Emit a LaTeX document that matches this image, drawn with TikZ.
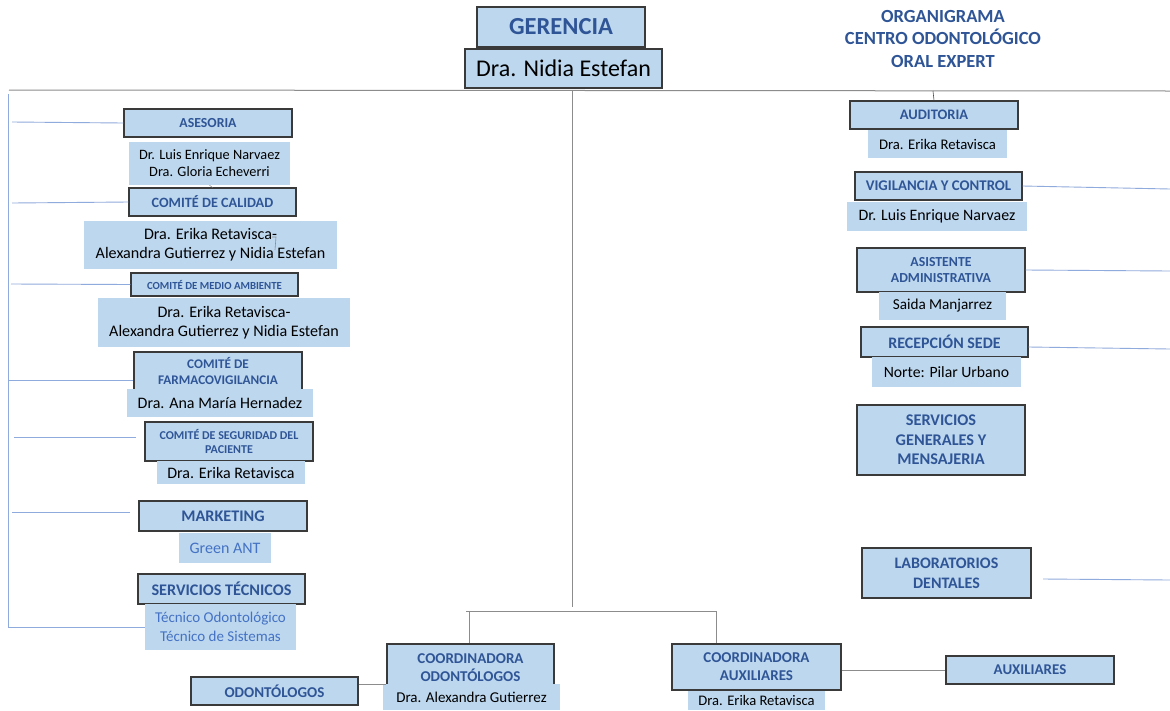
\documentclass[tikz,border=0pt]{standalone}
\usepackage{fontspec}
\setmainfont{Carlito}
\definecolor{boxfill}{HTML}{BDD7EE}
\definecolor{hdblue}{HTML}{2F5597}
\definecolor{midblue}{HTML}{4472C4}
\definecolor{edgegray}{HTML}{3A3A3A}
\definecolor{linegray}{HTML}{8C8C8C}
\definecolor{lineblue}{HTML}{8FAADC}
\newcommand{\fs}[2]{\fontsize{#1}{#2}\selectfont}
\tikzset{
  headbox/.style={draw=edgegray, line width=1.1pt, fill=boxfill, text=hdblue, font=\bfseries, inner sep=0pt, align=center},
  namebox/.style={fill=boxfill, text=black, inner sep=0pt, align=center},
  graylink/.style={draw=linegray, line width=1pt},
  bluelink/.style={draw=lineblue, line width=0.9pt},
}
\begin{document}
\begin{tikzpicture}[x=1pt,y=-1pt]
\useasboundingbox (0,0) rectangle (1170,710);
\fill[white] (0,0) rectangle (1170,710);

% ---- top ----
\node[headbox, minimum width=168pt, minimum height=40pt, font=\fs{24.5}{28}\bfseries] (ger) at (561,27) {GERENCIA};
\node[headbox, text=black, minimum width=197pt, minimum height=39pt, font=\fs{24}{28}] (nidia) at (563.5,68.5) {Dra. Nidia Estefan};
\node[text=hdblue, align=center, font=\fs{18.5}{22.5}\bfseries] (title) at (943,38.5) {ORGANIGRAMA\\CENTRO ODONTOLÓGICO\\ORAL EXPERT};

\coordinate (mainL) at (9,90);
\coordinate (mainR) at (1170,91);
\coordinate (mainC) at (572,90.5);
\draw[graylink] (mainL) -- (mainR);
\coordinate (cbot) at (572,607);
\draw[graylink] (mainC) -- (cbot);

% ---- left column ----
\coordinate (lvTop) at (8,94);
\coordinate (lvBot) at (8,627);
\draw[bluelink] (lvTop) -- (lvBot);

\node[headbox, minimum width=168pt, minimum height=28pt, font=\fs{13.8}{16}\bfseries] (ases) at (208,123) {ASESORIA};
\node[namebox, minimum width=161pt, minimum height=43pt, font=\fs{14.3}{17}] (n1) at (209.5,163.5) {Dr. Luis Enrique Narvaez\\Dra. Gloria Echeverri};
\node[headbox, minimum width=167pt, minimum height=28pt, font=\fs{14.2}{16}\bfseries] (cal) at (212.5,202) {COMITÉ DE CALIDAD};
\draw[graylink, line width=0.5pt] (n1.south) -- (cal.north);
\node[namebox, minimum width=253pt, minimum height=48pt, font=\fs{16.1}{19}] (n2) at (210.5,245) {Dra. Erika Retavisca-\\Alexandra Gutierrez y Nidia Estefan};
\coordinate (brA) at (272,237);
\coordinate (brB) at (276,237);
\coordinate (brC) at (275,250);
\draw[graylink, line width=0.6pt] (brA) -- (brB) -- (brC);
\node[headbox, minimum width=167pt, minimum height=23pt, font=\fs{10.8}{12}\bfseries] (med) at (214.5,284.5) {COMITÉ DE MEDIO AMBIENTE};
\node[namebox, minimum width=252pt, minimum height=49pt, font=\fs{16.1}{19}] (n3) at (224,322.5) {Dra. Erika Retavisca-\\Alexandra Gutierrez y Nidia Estefan};
\node[headbox, minimum width=168pt, minimum height=38pt, font=\fs{13.2}{16.5}\bfseries] (far) at (218,371) {COMITÉ DE\\FARMACOVIGILANCIA};
\node[namebox, minimum width=186pt, minimum height=28pt, font=\fs{16}{18}] (n4) at (220,403) {Dra. Ana María Hernadez};
\node[headbox, minimum width=168pt, minimum height=39pt, font=\fs{12}{14}\bfseries] (seg) at (229,441.5) {COMITÉ DE SEGURIDAD DEL\\PACIENTE};
\node[namebox, minimum width=148pt, minimum height=23pt, font=\fs{16}{17}] (n5) at (231,472.5) {Dra. Erika Retavisca};
\node[headbox, minimum width=168pt, minimum height=30pt, font=\fs{16.2}{18}\bfseries] (mkt) at (223,516) {MARKETING};
\node[namebox, text=midblue, minimum width=92pt, minimum height=30pt, font=\fs{16}{18}] (n6) at (225,548) {Green ANT};
\node[headbox, minimum width=167pt, minimum height=30pt, font=\fs{16.2}{18}\bfseries] (stec) at (221.5,589) {SERVICIOS TÉCNICOS};
\node[namebox, text=midblue, minimum width=151pt, minimum height=46pt, font=\fs{15}{18.5}] (n7) at (220.5,627) {Técnico Odontológico\\Técnico de Sistemas};

\coordinate (lA) at (12,122);
\coordinate (lB) at (12,203);
\coordinate (lC) at (11,284);
\coordinate (lD) at (9,380);
\coordinate (lE) at (14,437);
\coordinate (lF) at (12,512);
\draw[bluelink] (lA) -- (ases.west);
\draw[bluelink] (lB) -- (cal.west);
\draw[bluelink] (lC) -- (med.west);
\draw[bluelink] (lD) -- (lD -| far.west);
\draw[bluelink, shorten >=8pt] (lE) -- (lE -| seg.west);
\draw[bluelink, shorten >=8pt] (lF) -- (lF -| mkt.west);
\draw[bluelink] (lvBot) -- (n7.west);

% ---- bottom ----
\node[headbox, minimum width=167pt, minimum height=42pt] (codon) at (470.5,665) {};
\node[text=hdblue, align=center, font=\fs{15}{18}\bfseries] (codonT) at (470.5,668) {COORDINADORA\\ODONTÓLOGOS};
\node[namebox, minimum width=177pt, minimum height=26pt, font=\fs{15}{17}] (n8) at (471.5,697) {Dra. Alexandra Gutierrez};
\node[headbox, minimum width=169pt, minimum height=46pt, font=\fs{15}{18}\bfseries] (caux) at (756.5,667) {COORDINADORA\\AUXILIARES};
\node[namebox, minimum width=137pt, minimum height=19pt, font=\fs{14.6}{16}] (n9) at (756.5,700.5) {Dra. Erika Retavisca};
\node[headbox, minimum width=167pt, minimum height=28pt, font=\fs{15}{17}\bfseries] (odon) at (274.5,691) {ODONTÓLOGOS};
\node[headbox, minimum width=168pt, minimum height=28pt, font=\fs{14.9}{16}\bfseries] (aux) at (1030,670) {AUXILIARES};

\coordinate (barL) at (466,611);
\coordinate (barR) at (717,611);
\coordinate (barLd) at (469,611);
\coordinate (barRd) at (716,611);
\draw[graylink] (barL) -- (barR);
\draw[graylink] (barLd) -- (barLd |- codon.north);
\draw[graylink] (barRd) -- (barRd |- caux.north);
\coordinate (oj) at ([yshift=7pt]odon.east);
\draw[graylink] (oj) -- (oj -| codon.west);
\draw[graylink] (aux.west -| caux.east) -- (aux.west);

% ---- right column ----
\node[headbox, minimum width=168pt, minimum height=28pt, font=\fs{14.5}{16}\bfseries] (aud) at (934,115) {AUDITORIA};
\node[namebox, minimum width=139pt, minimum height=28pt, font=\fs{14.7}{16}] (n10) at (937.5,144) {Dra. Erika Retavisca};
\coordinate (tick) at (933,91);
\draw[graylink, draw=black!70, line width=0.6pt] (tick) -- (aud.north);
\node[headbox, minimum width=167pt, minimum height=28pt, font=\fs{14.8}{16}\bfseries] (vig) at (938.5,186) {VIGILANCIA Y CONTROL};
\node[namebox, minimum width=180pt, minimum height=29pt, font=\fs{15.9}{18}] (n11) at (937,216.5) {Dr. Luis Enrique Narvaez};
\node[headbox, minimum width=168pt, minimum height=44pt, font=\fs{13.8}{16}\bfseries] (asis) at (941,270) {ASISTENTE\\ADMINISTRATIVA};
\node[namebox, minimum width=127pt, minimum height=28pt, font=\fs{15.2}{18}] (n12) at (942.5,306) {Saida Manjarrez};
\node[headbox, minimum width=167pt, minimum height=30pt, font=\fs{16}{17}\bfseries] (rec) at (944.5,342) {RECEPCIÓN SEDE};
\node[namebox, minimum width=149pt, minimum height=30pt, font=\fs{15.7}{17}] (n13) at (946.5,372) {Norte: Pilar Urbano};
\node[headbox, minimum width=168pt, minimum height=70pt, font=\fs{16.3}{19.5}\bfseries] (sgen) at (941,440) {SERVICIOS\\GENERALES Y\\MENSAJERIA};
\node[headbox, minimum width=169pt, minimum height=50pt, font=\fs{16}{19.7}\bfseries] (lab) at (946.5,573) {LABORATORIOS\\DENTALES};

\coordinate (rA) at (1170,189);
\coordinate (rB) at (1170,271);
\coordinate (rC0) at (1028,347);
\coordinate (rC) at (1170,349);
\coordinate (rD0) at (1043,579);
\coordinate (rD) at (1170,580);
\draw[bluelink] (vig.east) -- (rA);
\draw[bluelink] (asis.east) -- (rB);
\draw[bluelink] (rC0 -| rec.east) -- (rC);
\draw[bluelink] (rD0) -- (rD);
\end{tikzpicture}
\end{document}
